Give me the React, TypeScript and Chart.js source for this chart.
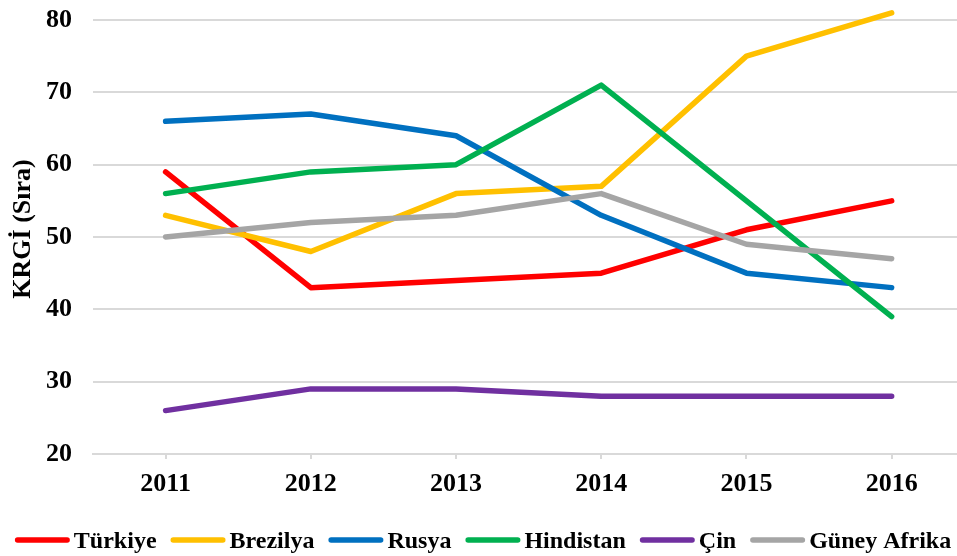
import React, { useEffect, useRef } from "react";
import { Chart, registerables } from "chart.js";

Chart.register(...registerables);

// ---- data ----
const years = [2011, 2012, 2013, 2014, 2015, 2016];
const xTickLabels = ["2011", "2012", "2013", "2014", "2015", "2016"];
const seriesNames = ["Türkiye", "Brezilya", "Rusya", "Hindistan", "Çin", "Güney Afrika"];
const turkiye = [59, 43, 44, 45, 51, 55];
const brezilya = [53, 48, 56, 57, 75, 81];
const rusya = [66, 67, 64, 53, 45, 43];
const hindistan = [56, 59, 60, 71, 55, 39];
const cin = [26, 29, 29, 28, 28, 28];
const guneyAfrika = [50, 52, 53, 56, 49, 47];
const seriesColors = ["#FF0000", "#FFC000", "#0070C0", "#00B050", "#7030A0", "#A5A5A5"];
const yAxisTitle = "KRGİ (Sıra)";
const yMin = 20;
const yMax = 80;
const yStep = 10;

const allSeries = [turkiye, brezilya, rusya, hindistan, cin, guneyAfrika];

const FONT_FAMILY = '"Liberation Serif", "Times New Roman", serif';

const legendPlugin = {
  id: "bottomLineLegend",
  afterDraw(chart: any) {
    const ctx = chart.ctx as CanvasRenderingContext2D;
    ctx.save();
    // y-axis title (rotated), centred slightly above the plot centre as in the reference
    ctx.font = `bold 26px ${FONT_FAMILY}`;
    ctx.fillStyle = "#000";
    ctx.textAlign = "center";
    ctx.textBaseline = "middle";
    const area = chart.chartArea;
    ctx.translate(23, (area.top + area.bottom) / 2 - 8);
    ctx.rotate(-Math.PI / 2);
    ctx.fillText(yAxisTitle, 0, 0);
    ctx.restore();

    ctx.save();
    ctx.font = `bold 24px ${FONT_FAMILY}`;
    const lineLen = 55;
    const gapText = 4;
    const gapItem = 14;
    const datasets = chart.data.datasets;
    const widths = datasets.map((ds: any) => ctx.measureText(ds.label).width);
    let total = 0;
    widths.forEach((w: number, i: number) => {
      total += lineLen + gapText + w + (i < widths.length - 1 ? gapItem : 0);
    });
    let x = 483 - total / 2;
    const yLine = 540;
    const yText = 548;
    datasets.forEach((ds: any, i: number) => {
      ctx.strokeStyle = ds.borderColor;
      ctx.lineWidth = 5.5;
      ctx.lineCap = "round";
      ctx.beginPath();
      ctx.moveTo(x + 2.75, yLine);
      ctx.lineTo(x + lineLen - 2.75, yLine);
      ctx.stroke();
      ctx.fillStyle = "#000";
      ctx.textAlign = "left";
      ctx.textBaseline = "alphabetic";
      ctx.fillText(ds.label, x + lineLen + gapText, yText);
      x += lineLen + gapText + widths[i] + gapItem;
    });
    ctx.restore();
  },
};

export default function App() {
  const canvasRef = useRef<HTMLCanvasElement | null>(null);

  useEffect(() => {
    if (!canvasRef.current) return;
    const datasets = seriesNames.map((name, i) => ({
      label: name,
      data: years.map((yr, j) => ({ x: yr, y: allSeries[i][j] })),
      borderColor: seriesColors[i],
      backgroundColor: seriesColors[i],
      borderWidth: 5.5,
      borderCapStyle: "round" as const,
      borderJoinStyle: "round" as const,
      pointRadius: 0,
      pointHoverRadius: 0,
      tension: 0,
      fill: false,
      clip: false as any,
      order: seriesNames.length - i,
    }));

    const chart = new Chart(canvasRef.current, {
      type: "line",
      data: { datasets },
      options: {
        animation: false,
        responsive: false,
        devicePixelRatio: 1,
        events: [],
        layout: { padding: { top: 20, left: 0, right: 0, bottom: 0 } },
        plugins: {
          legend: { display: false },
          tooltip: { enabled: false },
        },
        scales: {
          x: {
            type: "linear",
            min: 2010.5,
            max: 2016.45,
            afterBuildTicks: (axis: any) => {
              axis.ticks = years.map((v) => ({ value: v }));
            },
            afterFit: (axis: any) => {
              axis.height = 102;
              axis.paddingLeft = 0;
              axis.paddingRight = 0;
            },
            grid: {
              drawOnChartArea: false,
              drawTicks: true,
              tickLength: 5,
              color: "#d9d9d9",
              lineWidth: 2,
            },
            border: { display: true, color: "#d9d9d9", width: 2 },
            ticks: {
              color: "#000",
              font: { family: FONT_FAMILY, size: 26, weight: "bold" },
              padding: 10,
              autoSkip: false,
              maxRotation: 0,
              callback: (v: any) => xTickLabels[years.indexOf(Number(v))] ?? "",
            },
          },
          y: {
            type: "linear",
            min: yMin,
            max: yMax,
            afterFit: (axis: any) => {
              axis.width = 93;
              axis.paddingTop = 0;
              axis.paddingBottom = 0;
            },
            grid: { color: "#d9d9d9", lineWidth: 2, drawTicks: false },
            border: { display: false },
            ticks: {
              stepSize: yStep,
              color: "#000",
              padding: 21,
              font: { family: FONT_FAMILY, size: 26, weight: "bold" },
            },
            title: { display: false, text: yAxisTitle },
          },
        },
      },
      plugins: [legendPlugin],
    });

    return () => chart.destroy();
  }, []);

  return (
    <div style={{ position: "absolute", left: 0, top: 0, width: 957, height: 556, background: "#fff" }}>
      <canvas ref={canvasRef} width={957} height={556} />
    </div>
  );
}
